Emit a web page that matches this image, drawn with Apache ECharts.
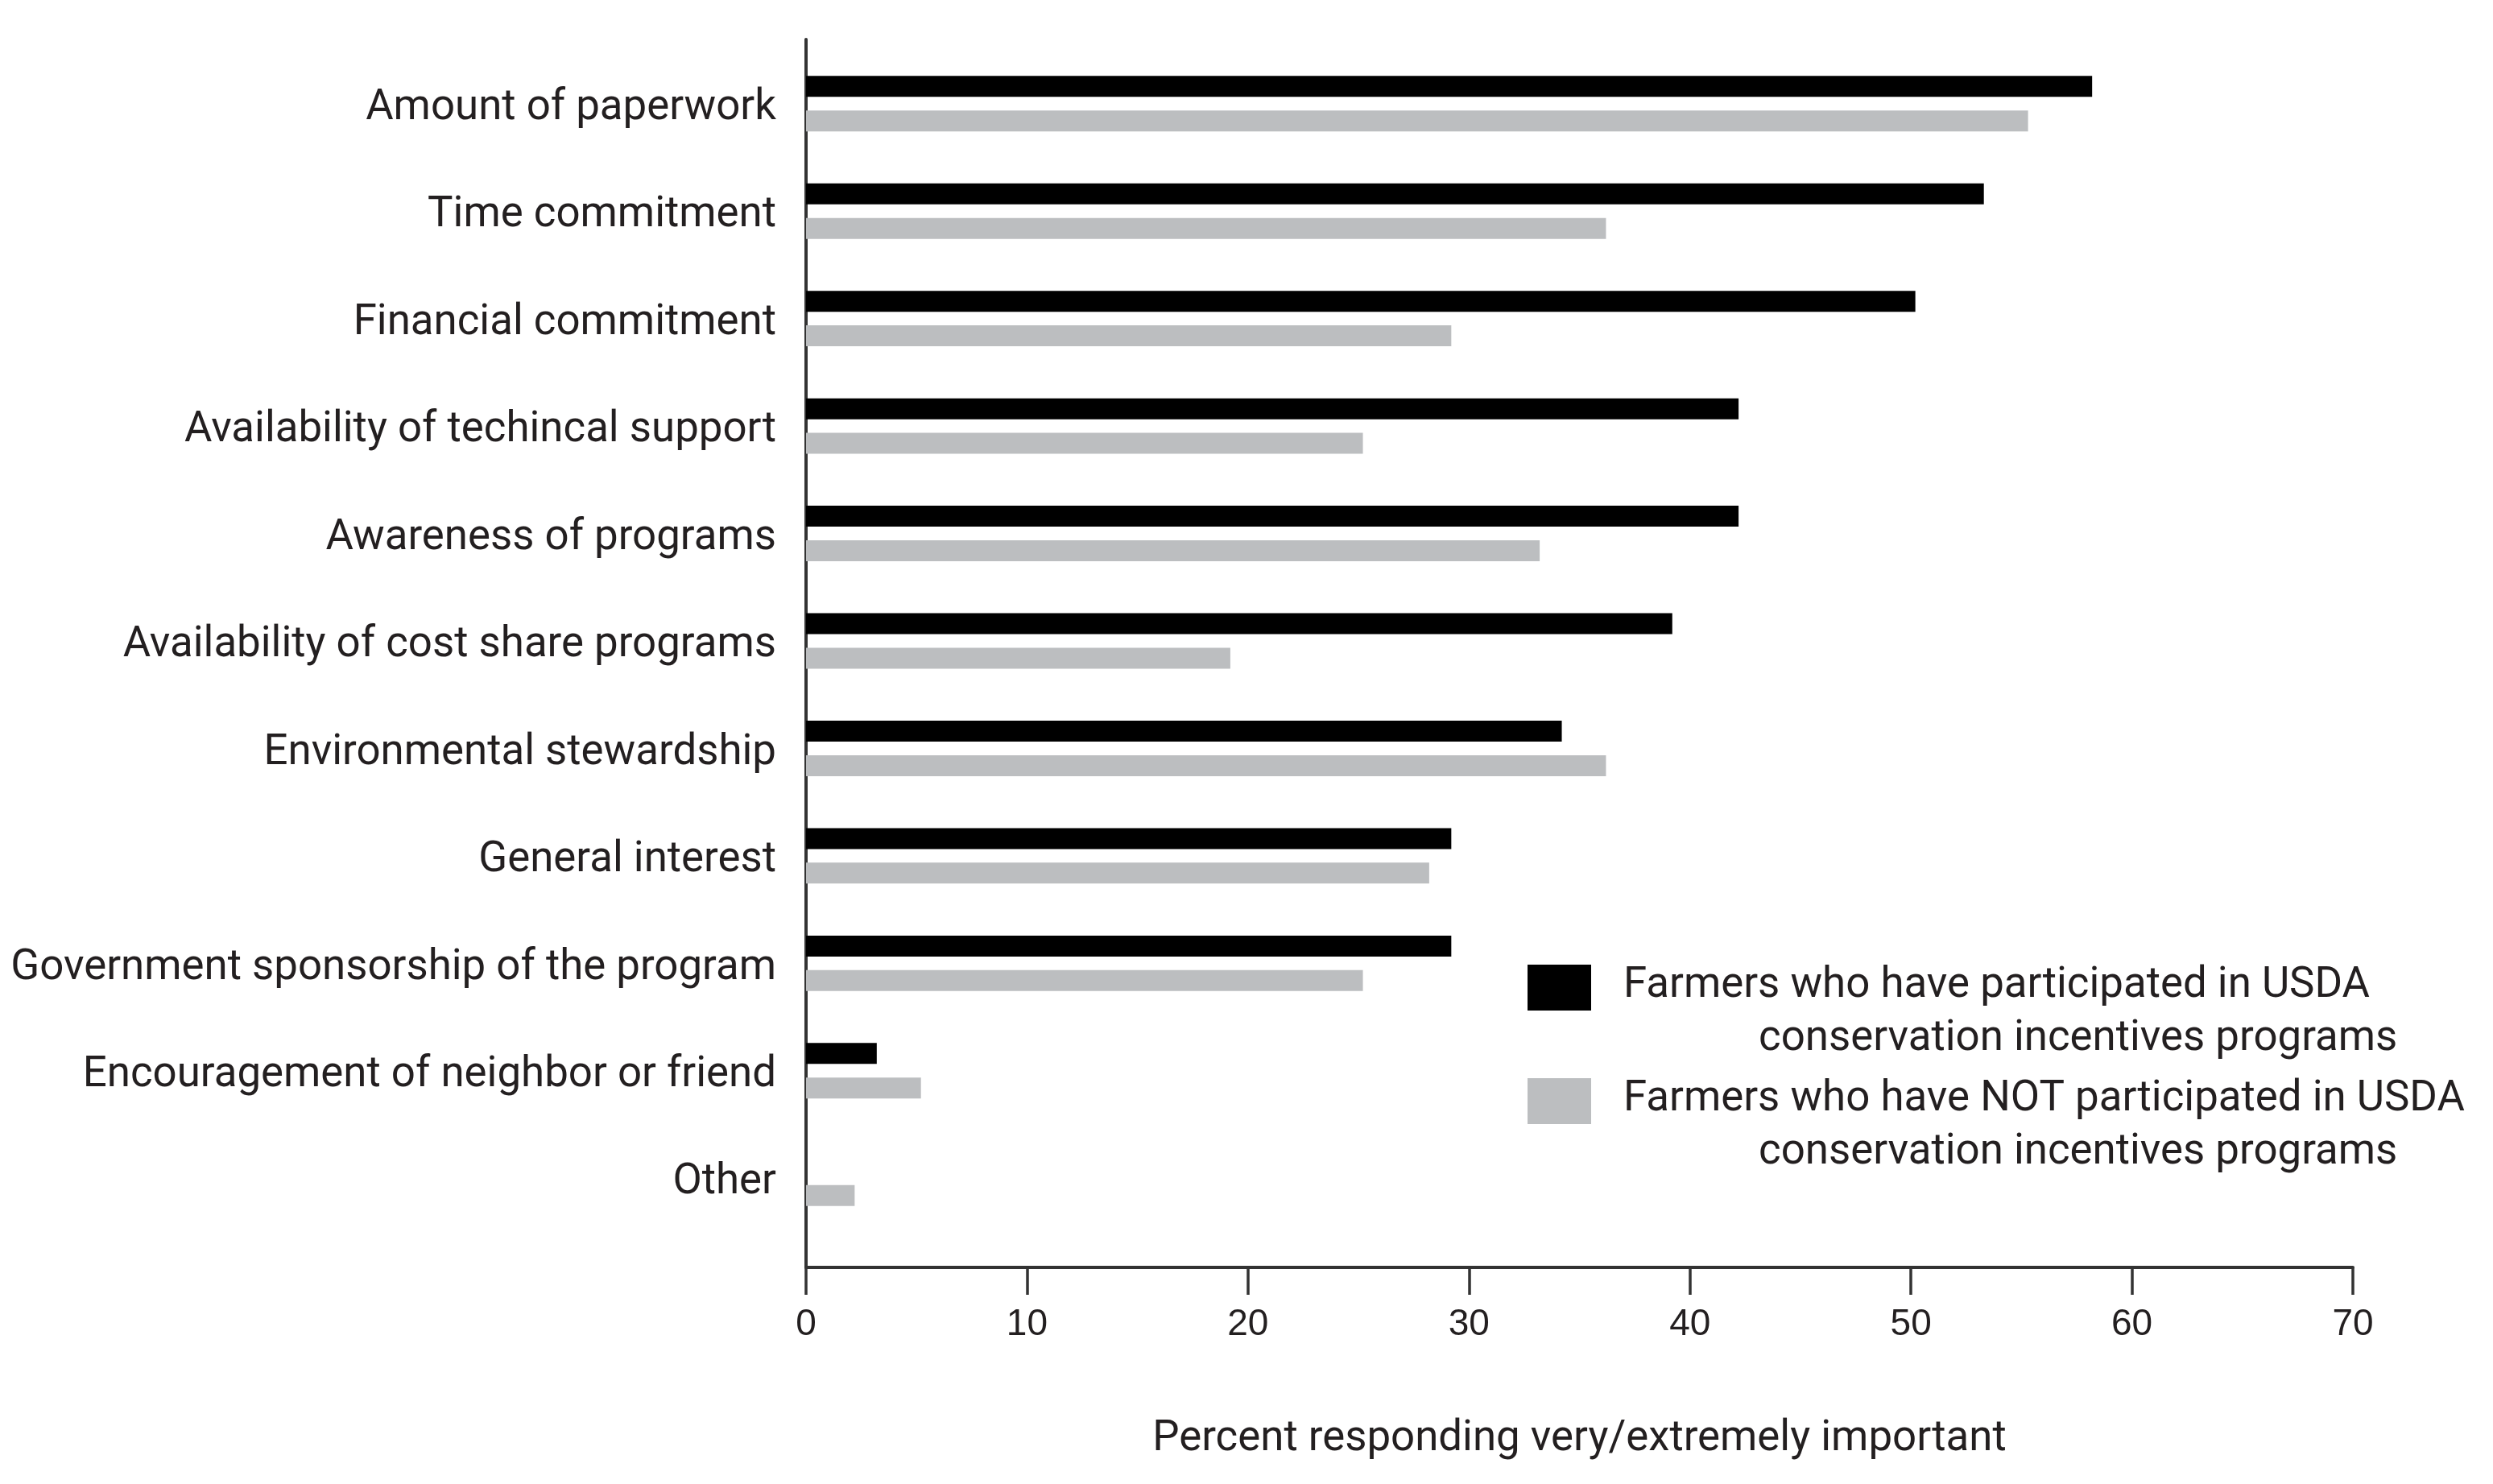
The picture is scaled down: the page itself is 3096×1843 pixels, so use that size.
<!DOCTYPE html>
<html>
<head>
<meta charset="utf-8">
<style>
  html, body { margin: 0; padding: 0; background: #ffffff; }
  #chart { width: 3096px; height: 1843px; }
</style>
<script src="https://cdn.jsdelivr.net/npm/echarts@6/dist/echarts.min.js"></script>
</head>
<body>
<div id="chart"></div>
<script>
const categories = [
  'Amount of paperwork',
  'Time commitment',
  'Financial commitment',
  'Availability of techincal support',
  'Awareness of programs',
  'Availability of cost share programs',
  'Environmental stewardship',
  'General interest',
  'Government sponsorship of the program',
  'Encouragement of neighbor or friend',
  'Other'
];
const participated = [58.2, 53.3, 50.2, 42.2, 42.2, 39.2, 34.2, 29.2, 29.2, 3.2, 0];
const notParticipated = [55.3, 36.2, 29.2, 25.2, 33.2, 19.2, 36.2, 28.2, 25.2, 5.2, 2.2];
const xTicks = [0, 10, 20, 30, 40, 50, 60, 70];
const seriesNames = [
  'Farmers who have participated in USDA',
  'Farmers who have NOT participated in USDA'
];
const legendSecondLine = 'conservation incentives programs';
const xAxisTitle = 'Percent responding very/extremely important';

const TEXT = '#231f20';
const AXIS = '#333333';
const FONT = 'Roboto';
const FS = 52.8;

const chart = echarts.init(document.getElementById('chart'), null, { renderer: 'canvas' });

function legendFor(i, top) {
  return {
    data: [seriesNames[i]],
    orient: 'vertical',
    left: 1897,
    top: top,
    padding: 0,
    itemWidth: 79,
    itemHeight: 57,
    selectedMode: false,
    icon: 'rect',
    formatter: function (name) {
      return '{a|' + name + '}\n{b|' + legendSecondLine + '}';
    },
    textStyle: {
      color: TEXT,
      fontFamily: FONT,
      fontSize: FS,
      padding: [62, 0, 0, 35],
      rich: {
        a: { color: TEXT, fontFamily: FONT, fontSize: FS, lineHeight: 66 },
        b: { color: TEXT, fontFamily: FONT, fontSize: FS, lineHeight: 66, padding: [0, 0, 0, 168] }
      }
    }
  };
}

const option = {
  backgroundColor: '#ffffff',
  animation: false,
  legend: [legendFor(0, 1198), legendFor(1, 1339)],
  grid: [
    { left: 1001, right: 174, top: 62, bottom: 313, containLabel: false },
    { left: 1001, right: 174, top: 49, bottom: 269, containLabel: false }
  ],
  xAxis: [
    { type: 'value', gridIndex: 0, min: 0, max: 70, show: false },
    {
      type: 'value', gridIndex: 1, min: 0, max: 70, interval: 10,
      axisLine: { show: true, lineStyle: { color: AXIS, width: 4 } },
      axisTick: { show: true, length: 34, lineStyle: { color: AXIS, width: 3.5 } },
      axisLabel: {
        color: TEXT, fontFamily: 'Liberation Sans', fontSize: 46, margin: 48,
        formatter: function (v) { return xTicks.indexOf(v) >= 0 ? String(v) : ''; }
      },
      splitLine: { show: false },
      name: xAxisTitle,
      nameLocation: 'middle',
      nameGap: 187,
      nameTextStyle: { color: TEXT, fontFamily: FONT, fontSize: FS }
    }
  ],
  yAxis: [
    {
      type: 'category', gridIndex: 0, data: categories, inverse: true,
      axisLine: { show: false },
      axisTick: { show: false },
      axisLabel: {
        color: TEXT, fontFamily: FONT, fontSize: FS, margin: 37,
        verticalAlign: 'top', lineHeight: 12
      }
    },
    {
      type: 'value', gridIndex: 1, min: 0, max: 1,
      axisLine: { show: true, lineStyle: { color: AXIS, width: 4 } },
      axisTick: { show: false },
      axisLabel: { show: false },
      splitLine: { show: false }
    }
  ],
  series: [
    {
      name: seriesNames[0], type: 'bar', xAxisIndex: 0, yAxisIndex: 0,
      data: participated, barWidth: 26, barGap: '65%',
      itemStyle: { color: '#000000' }
    },
    {
      name: seriesNames[1], type: 'bar', xAxisIndex: 0, yAxisIndex: 0,
      data: notParticipated, barWidth: 26, barGap: '65%',
      itemStyle: { color: '#bcbec0' }
    }
  ]
};

chart.setOption(option);
</script>
</body>
</html>
